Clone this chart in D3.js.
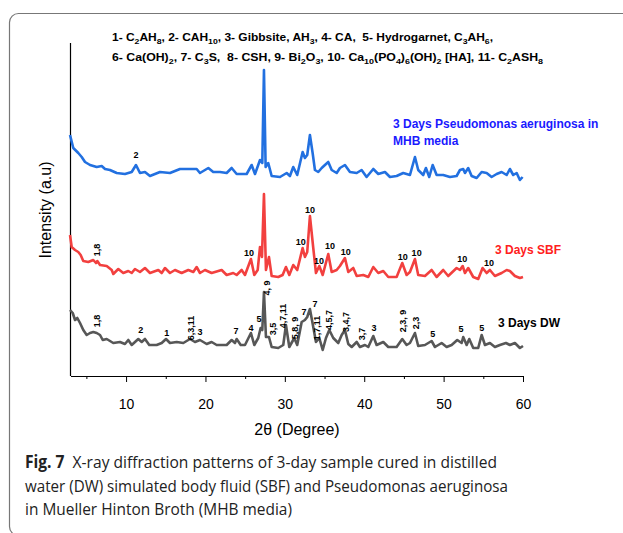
<!DOCTYPE html>
<html>
<head>
<meta charset="utf-8">
<script src="https://cdn.jsdelivr.net/npm/d3@7"></script>
<style>
  body { margin: 0; background: #fff; }
  svg { display: block; }
</style>
</head>
<body>
<svg id="chart" width="623" height="533"></svg>
<script>
// XRD patterns, [2θ, intensity a.u.]
const dwPattern = [
  [2.94,66],[3.28,63],[3.57,56],[3.86,58],[4.20,53],[4.61,46],[5.04,41],[5.46,43],[5.87,44],[6.30,43],
  [6.72,41],[7.06,36],[7.56,37],[8.39,33],[9.23,34],[9.86,32],[10.28,36],[10.71,31],[11.54,37],[11.97,34],
  [12.38,37],[12.92,31],[13.85,31],[14.49,33],[15.03,37],[15.53,33],[16.38,34],[17.21,33],[18.05,37],[18.68,34],
  [19.31,36],[20.15,32],[20.78,34],[21.41,31],[22.67,31],[23.30,36],[23.72,33],[23.93,37],[24.44,31],[24.98,31],
  [25.73,43],[26.15,31],[26.65,38],[26.95,48],[27.16,46],[27.37,84],[27.62,39],[28.00,39],[28.34,29],[29.17,28],
  [29.80,31],[30.14,51],[30.56,29],[31.19,38],[31.56,31],[32.12,54],[32.53,56],[32.82,59],[33.16,67],[33.58,49],
  [33.92,34],[34.34,38],[34.77,26],[35.18,38],[35.60,46],[36.10,38],[36.73,33],[37.16,41],[37.57,46],[37.99,32],
  [38.42,29],[39.05,34],[39.46,29],[40.09,31],[40.51,29],[41.14,40],[41.56,31],[42.40,34],[43.03,29],[44.08,29],
  [44.79,37],[45.34,31],[45.76,33],[46.39,43],[46.80,30],[47.65,31],[48.49,35],[48.91,29],[49.75,33],[50.38,29],
  [51.01,31],[51.72,36],[52.27,33],[52.47,39],[52.90,31],[53.23,37],[53.73,28],[54.36,28],[54.79,41],[55.21,31],
  [55.83,33],[56.46,29],[57.09,31],[57.85,33],[58.35,31],[58.98,33],[59.61,28],[60.00,30]
];
const sbfPattern = [
  [2.94,66],[3.15,54],[3.57,51],[3.98,49],[4.28,46],[4.61,40],[5.24,39],[5.87,41],[6.21,38],[6.38,40],
  [6.72,36],[7.56,35],[8.19,31],[8.39,27],[9.02,32],[9.65,28],[10.28,30],[10.71,28],[11.12,32],[11.75,29],
  [12.38,33],[13.01,28],[14.06,31],[14.49,28],[14.90,33],[15.53,28],[16.16,31],[17.00,28],[17.84,31],[18.47,29],
  [18.89,34],[19.31,28],[19.94,31],[20.78,28],[22.04,31],[22.67,26],[23.50,28],[23.93,26],[24.56,31],[24.98,26],
  [25.73,42],[26.15,26],[26.58,31],[26.87,54],[27.12,44],[27.37,107],[27.62,31],[28.00,44],[28.34,25],[29.17,24],
  [29.72,26],[30.14,34],[30.56,26],[31.06,36],[31.56,31],[32.24,53],[32.53,44],[32.82,49],[33.16,85],[33.58,53],
  [33.92,28],[34.34,35],[34.77,26],[35.47,47],[35.90,29],[36.53,31],[36.94,35],[37.57,43],[37.99,29],[38.62,33],
  [39.05,25],[39.88,26],[40.51,24],[41.14,34],[41.77,28],[42.40,30],[43.03,24],[44.08,24],[44.79,38],[45.34,26],
  [45.76,29],[46.39,42],[46.80,26],[47.65,25],[48.49,31],[49.12,24],[49.95,31],[50.58,25],[51.64,33],[52.06,31],
  [52.40,35],[52.69,28],[53.10,33],[53.73,24],[54.36,22],[54.91,33],[55.42,28],[55.83,31],[56.46,25],[57.31,28],
  [57.94,31],[58.35,30],[58.98,25],[59.61,23],[60.00,24]
];
const mhbPattern = [
  [2.94,71],[3.35,58],[3.98,53],[4.41,49],[4.83,44],[5.46,41],[6.30,39],[6.93,40],[7.35,37],[7.97,36],
  [8.82,33],[9.86,32],[10.71,34],[11.25,41],[11.75,33],[12.38,34],[13.01,30],[14.27,34],[15.53,33],[16.79,37],
  [18.89,37],[19.31,33],[20.36,38],[20.98,34],[21.83,34],[22.67,33],[23.30,38],[23.93,32],[25.19,32],[25.82,41],
  [26.24,32],[26.87,46],[27.16,43],[27.37,136],[27.58,39],[27.91,43],[28.34,30],[29.39,29],[30.23,33],[30.64,30],
  [31.06,39],[31.56,31],[32.24,54],[32.53,48],[32.82,51],[33.16,71],[33.50,53],[33.79,36],[34.21,34],[34.64,38],
  [35.05,41],[35.47,44],[35.90,36],[36.53,33],[36.94,38],[37.57,41],[38.20,34],[39.05,33],[39.67,36],[40.30,29],
  [41.14,37],[41.77,32],[42.61,34],[43.24,29],[44.08,30],[44.91,33],[45.76,31],[46.39,49],[46.80,36],[47.43,31],
  [47.77,38],[48.19,29],[48.62,41],[49.12,31],[49.95,31],[50.80,29],[51.64,30],[52.06,36],[52.47,37],[52.69,33],
  [53.10,38],[53.53,30],[54.16,28],[54.79,34],[55.42,33],[56.05,29],[56.68,32],[57.31,34],[57.94,31],[58.35,37],
  [58.77,31],[59.20,33],[59.61,26],[59.95,29]
];

// vertical stacking offsets (a.u.)
const seriesNames = ['3 Days DW', '3 Days SBF', '3 Days Pseudomonas aeruginosa in MHB media'];
const seriesOffsets = [0, 75, 170];

// peak annotations: [series index, 2θ, label intensity, text, rotated]
const peakLabels = [
  [0, 6.38, 55, '1,8', true], [0, 11.84, 46, '2', false], [0, 15.12, 43, '1', false],
  [0, 18.18, 48, '6,3,11', true], [0, 19.31, 44, '3', false], [0, 23.84, 45, '7', false],
  [0, 25.73, 48, '4', false], [0, 26.74, 57, '5', false], [0, 27.71, 88, '4, 9', true],
  [0, 28.54, 47, '3,5', true], [0, 29.73, 60, '4,7,11', true], [0, 31.27, 48, '5,8, 9', true],
  [0, 32.41, 64, '7', false], [0, 33.79, 72, '7', false], [0, 34.08, 48, '1,7,11', true],
  [0, 35.52, 56, '4,5,7', true], [0, 37.66, 54, '3,4,7', true], [0, 39.67, 42, '3,7', true],
  [0, 41.22, 48, '3', false], [0, 44.84, 55, '2,3, 9', true], [0, 46.51, 53, '2,3', true],
  [0, 48.62, 42, '5', false], [0, 52.18, 47, '5', false], [0, 54.79, 48, '5', false],
  [1, 6.38, 51, '1,8', true], [1, 25.48, 48, '10', false], [1, 31.99, 59, '10', false],
  [1, 33.16, 91, '10', false], [1, 34.30, 40, '10', false], [1, 35.68, 55, '10', false],
  [1, 37.66, 49, '10', false], [1, 44.84, 44, '10', false], [1, 46.60, 48, '10', false],
  [1, 52.34, 42, '10', false], [1, 55.71, 38, '10', false],
  [2, 11.25, 51, '2', false]
];

const xTicksMajor = [10, 20, 30, 40, 50, 60];
const xTicksMinor = [5, 15, 25, 35, 45, 55];

const phaseKey = [
  '1- C_{2}AH_{8}, 2- CAH_{10}, 3- Gibbsite, AH_{3}, 4- CA,  5- Hydrogarnet, C_{3}AH_{6},',
  '6- Ca(OH)_{2}, 7- C_{3}S,  8- CSH, 9- Bi_{2}O_{3}, 10- Ca_{10}(PO_{4})_{6}(OH)_{2} [HA], 11- C_{2}ASH_{8}'
];
const phaseKeyWidths = [381, 431];

const captionLines = [
  ['Fig. 7', '  X-ray diffraction patterns of 3-day sample cured in distilled'],
  ['', 'water (DW) simulated body fluid (SBF) and Pseudomonas aeruginosa'],
  ['', 'in Mueller Hinton Broth (MHB media)']
];
const captionWidths = [472, 483, 267];

const lineColors = ['#575757', '#f2403f', '#2270e0'];

const svg = d3.select('#chart');

// frame
svg.append('rect')
  .attr('x', 9.5).attr('y', 13.5)
  .attr('width', 700).attr('height', 522)
  .attr('rx', 9)
  .attr('fill', 'none')
  .attr('stroke', '#777').attr('stroke-width', 1.2);

const x = d3.scaleLinear().domain([3, 60]).range([70.5, 523]);
const y = d3.scaleLinear().domain([0, 333]).range([376, 43]);

// ── Axes ─────────────────────────────────────────────
svg.append('line')
  .attr('x1', x(3)).attr('x2', x(3))
  .attr('y1', y(333)).attr('y2', y(0))
  .attr('stroke', '#000').attr('stroke-width', 1.2);

const xAxis = svg.append('g')
  .attr('transform', `translate(0,${y(0)})`)
  .call(d3.axisBottom(x).tickValues(xTicksMajor).tickSize(6).tickSizeOuter(0).tickPadding(17))
  .attr('font-family', '"Liberation Sans", Arial, sans-serif')
  .attr('font-size', 14);
xAxis.select('.domain').attr('stroke-width', 1.2);

svg.append('g')
  .attr('transform', `translate(0,${y(0)})`)
  .call(d3.axisBottom(x).tickValues(xTicksMinor).tickSize(3).tickFormat(''))
  .call(g => g.select('.domain').remove());

svg.append('text')
  .attr('x', 297).attr('y', 435)
  .attr('text-anchor', 'middle')
  .attr('font-family', '"Liberation Sans", Arial, sans-serif')
  .attr('font-size', 16)
  .text('2θ (Degree)');

svg.append('text')
  .attr('transform', 'translate(51,210) rotate(-90)')
  .attr('text-anchor', 'middle')
  .attr('font-family', '"Liberation Sans", Arial, sans-serif')
  .attr('font-size', 16)
  .text('Intensity (a.u)');

// ── Patterns ─────────────────────────────────────────
const patterns = [dwPattern, sbfPattern, mhbPattern];
const line = d3.line()
  .x(d => x(d[0]))
  .y(d => y(d[1]))
  .curve(d3.curveLinear);

patterns.forEach((p, i) => {
  svg.append('path')
    .datum(p.map(d => [d[0], d[1] + seriesOffsets[i]]))
    .attr('d', line)
    .attr('fill', 'none')
    .attr('stroke', lineColors[i])
    .attr('stroke-width', 2.6)
    .attr('stroke-linejoin', 'round');
});

// ── Peak labels ──────────────────────────────────────
svg.append('g')
  .attr('font-family', '"Liberation Sans", Arial, sans-serif')
  .attr('font-weight', 'bold')
  .attr('font-size', 9)
  .selectAll('text')
  .data(peakLabels)
  .join('text')
    .attr('text-anchor', 'middle')
    .attr('dominant-baseline', 'central')
    .attr('transform', d => {
      const px = x(d[1]), py = y(d[2] + seriesOffsets[d[0]]);
      return d[4] ? `translate(${px},${py}) rotate(-90)` : `translate(${px},${py})`;
    })
    .text(d => d[3]);

// ── Series labels ────────────────────────────────────
const legendFont = '"Liberation Sans", Arial, sans-serif';
svg.append('text')
  .attr('x', 393).attr('y', 128)
  .attr('font-family', legendFont).attr('font-weight', 'bold').attr('font-size', 12)
  .attr('fill', '#1a1aff')
  .call(t => {
    t.append('tspan').attr('x', 393).text('3 Days Pseudomonas aeruginosa in');
    t.append('tspan').attr('x', 393).attr('dy', 17).text('MHB media');
  });
svg.append('text')
  .attr('x', 495).attr('y', 254)
  .attr('font-family', legendFont).attr('font-weight', 'bold').attr('font-size', 12)
  .attr('fill', '#ff2020')
  .text(seriesNames[1]);
svg.append('text')
  .attr('x', 498).attr('y', 327)
  .attr('font-family', legendFont).attr('font-weight', 'bold').attr('font-size', 12)
  .attr('fill', '#000')
  .text(seriesNames[0]);

// ── Phase key with subscripts ────────────────────────
function addChem(sel, str) {
  let lowered = false;
  str.split(/(_\{[^}]*\})/).filter(s => s.length).forEach(part => {
    if (part.startsWith('_{')) {
      sel.append('tspan')
        .attr('font-size', 8)
        .attr('dy', lowered ? 0 : 3)
        .text(part.slice(2, -1));
      lowered = true;
    } else {
      sel.append('tspan')
        .attr('dy', lowered ? -3 : 0)
        .text(part);
      lowered = false;
    }
  });
}

phaseKey.forEach((s, i) => {
  const t = svg.append('text')
    .attr('x', 112).attr('y', 41 + i * 19.5)
    .attr('font-family', legendFont)
    .attr('font-weight', 'bold')
    .attr('font-size', 11)
    .attr('textLength', phaseKeyWidths[i])
    .attr('lengthAdjust', 'spacingAndGlyphs')
    .style('white-space', 'pre');
  addChem(t, s);
});

// ── Caption ──────────────────────────────────────────
captionLines.forEach((c, i) => {
  const t = svg.append('text')
    .attr('x', 25).attr('y', 468 + i * 23.7)
    .attr('font-family', '"Open Sans", "Noto Sans", sans-serif')
    .attr('font-size', 17)
    .attr('fill', '#222')
    .attr('textLength', captionWidths[i])
    .attr('lengthAdjust', 'spacingAndGlyphs')
    .style('white-space', 'pre');
  if (c[0]) t.append('tspan').attr('font-weight', 'bold').text(c[0]);
  t.append('tspan').text(c[1]);
});
</script>
</body>
</html>
